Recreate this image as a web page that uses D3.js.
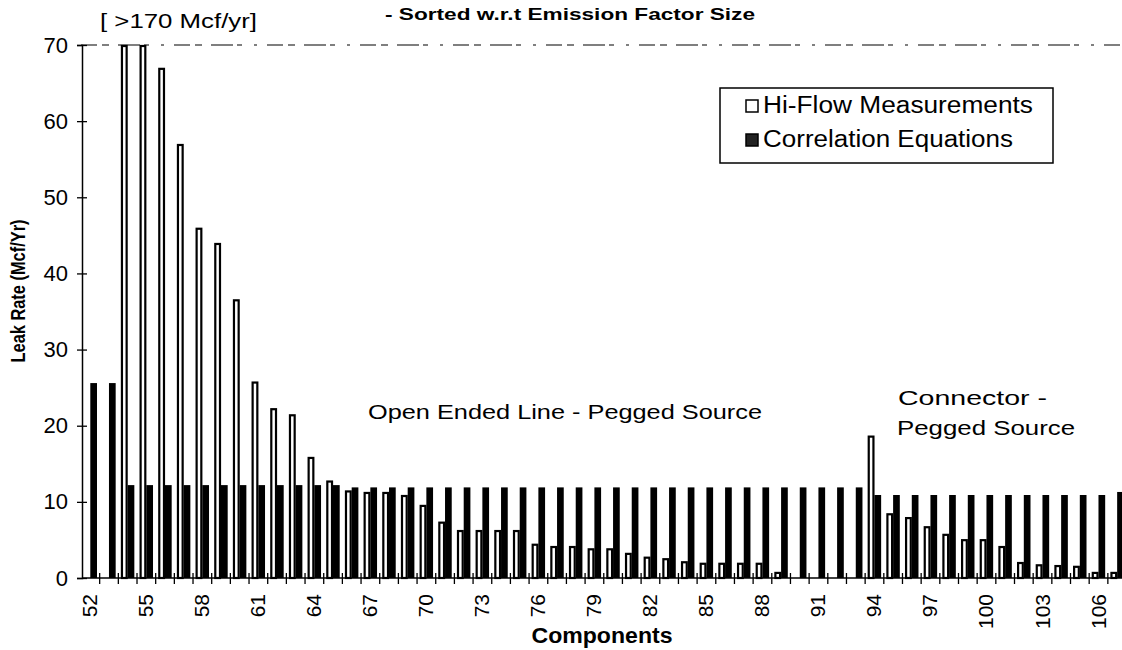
<!DOCTYPE html>
<html>
<head>
<meta charset="utf-8">
<script src="https://cdn.jsdelivr.net/npm/d3@7"></script>
<style>
  body { margin: 0; background: #fff; }
  svg { display: block; font-family: "Liberation Sans", Arial, sans-serif; }
</style>
</head>
<body>
<svg width="1122" height="650"></svg>
<script>
// components 52..107, sorted by emission factor size
var components = d3.range(52, 108);

// Hi-Flow measured leak rate (Mcf/yr); 54 and 55 are >170 and run off the 70 axis
var hiFlow = [
  0, 0, 170, 170, 67, 57, 46, 44, 36.6, 25.8, 22.3, 21.5, 15.9, 12.8,
  11.5, 11.3, 11.3, 10.9, 9.6, 7.4, 6.3, 6.3, 6.3, 6.3, 4.5, 4.2, 4.2, 3.9,
  3.9, 3.3, 2.8, 2.6, 2.2, 2.0, 2.0, 2.0, 2.0, 0.8, 0, 0, 0, 0,
  18.7, 8.5, 8.0, 6.8, 5.8, 5.1, 5.1, 4.2, 2.1, 1.8, 1.7, 1.6, 0.8, 0.8
];

// correlation equation estimates (Mcf/yr)
var correlation = [
  25.6, 25.6,
  12.2, 12.2, 12.2, 12.2, 12.2, 12.2, 12.2, 12.2, 12.2, 12.2, 12.2, 12.2,
  11.9, 11.9, 11.9, 11.9, 11.9, 11.9, 11.9, 11.9, 11.9, 11.9, 11.9, 11.9, 11.9, 11.9,
  11.9, 11.9, 11.9, 11.9, 11.9, 11.9, 11.9, 11.9, 11.9, 11.9, 11.9, 11.9, 11.9, 11.9,
  10.9, 10.9, 10.9, 10.9, 10.9, 10.9, 10.9, 10.9, 10.9, 10.9, 10.9, 10.9, 10.9, 11.3
];

var seriesNames = ["Hi-Flow Measurements", "Correlation Equations"];
var yTicks = [0, 10, 20, 30, 40, 50, 60, 70];
var xLabels = components.filter(function(c) { return (c - 52) % 3 === 0; });

(function() {
  var svg = d3.select("svg"),
    width = 1122,
    plotLeft = 81,
    plotBottom = 578,
    plotTop = 45,
    step = 18.67;

  var x = d3.scaleBand()
    .domain(components)
    .range([plotLeft, plotLeft + components.length * step])
    .padding(0);

  var x1 = d3.scaleBand()
    .domain(["hi", "corr"])
    .range([2.6, 16.0])
    .padding(0);

  var y = d3.scaleLinear()
    .domain([0, 70])
    .range([plotBottom, plotTop])
    .clamp(true);

  var rows = components.map(function(c, i) {
    return { c: c, hi: hiFlow[i], corr: correlation[i] };
  });

  // dashed top border at 70 (broken in the scan)
  svg.append("line")
    .attr("x1", plotLeft).attr("x2", width)
    .attr("y1", y(70)).attr("y2", y(70))
    .attr("stroke", "#555")
    .attr("stroke-width", 1.3)
    .attr("stroke-dasharray", "16,5,7,9,22,4,5,12,3,10");

  var groups = svg.append("g")
    .selectAll(".grp")
    .data(rows)
    .enter()
    .append("g")
    .attr("class", "grp")
    .attr("transform", function(d) { return "translate(" + x(d.c) + ",0)"; });

  groups.append("rect")
    .attr("x", x1("corr"))
    .attr("width", x1.bandwidth())
    .attr("y", function(d) { return y(d.corr); })
    .attr("height", function(d) { return plotBottom - y(d.corr); })
    .attr("fill", "#000");

  groups.filter(function(d) { return d.hi > 0; })
    .append("rect")
    .attr("x", x1("hi") + 1)
    .attr("width", x1.bandwidth() - 2)
    .attr("y", function(d) { return y(d.hi) + 1; })
    .attr("height", function(d) { return plotBottom - y(d.hi) - 1; })
    .attr("fill", "#fff")
    .attr("stroke", "#000")
    .attr("stroke-width", 2.2);

  // y axis
  var yAxis = svg.append("g")
    .attr("transform", "translate(" + (plotLeft + 1) + ",0)")
    .call(d3.axisLeft(y).tickValues(yTicks).tickSize(5).tickPadding(9));
  yAxis.select(".domain").attr("stroke-width", 1.5);
  yAxis.selectAll(".tick line").attr("x1", 5).attr("stroke-width", 1.3);
  yAxis.selectAll(".tick text")
    .style("font-size", "22px")
    .style("font-family", "'Liberation Sans', Arial, sans-serif")
    .attr("fill", "#000");

  // x axis line and boundary ticks
  svg.append("line")
    .attr("x1", plotLeft + 1).attr("x2", width)
    .attr("y1", plotBottom).attr("y2", plotBottom)
    .attr("stroke", "#000").attr("stroke-width", 1.5);

  svg.append("g").selectAll("line")
    .data(components.slice(1))
    .enter()
    .append("line")
    .attr("x1", function(c) { return x(c); })
    .attr("x2", function(c) { return x(c); })
    .attr("y1", plotBottom - 5).attr("y2", plotBottom + 6)
    .attr("stroke", "#000").attr("stroke-width", 1.3);

  var xAxis = svg.append("g")
    .attr("transform", "translate(0," + plotBottom + ")")
    .call(d3.axisBottom(x).tickValues(xLabels).tickSize(0));
  xAxis.select(".domain").remove();
  xAxis.selectAll(".tick text")
    .attr("x", 0).attr("y", 0).attr("dy", 0)
    .attr("transform", "translate(7,16) rotate(-90)")
    .style("text-anchor", "end")
    .style("font-size", "21px")
    .style("font-family", "'Liberation Sans', Arial, sans-serif")
    .attr("fill", "#000");

  // axis titles
  svg.append("text")
    .attr("transform", "translate(25,291) rotate(-90)")
    .attr("text-anchor", "middle")
    .attr("textLength", 143)
    .attr("lengthAdjust", "spacingAndGlyphs")
    .style("font-size", "20px")
    .style("font-weight", "bold")
    .text("Leak Rate (Mcf/Yr)");

  svg.append("text")
    .attr("x", 602).attr("y", 643)
    .attr("text-anchor", "middle")
    .attr("textLength", 141)
    .attr("lengthAdjust", "spacingAndGlyphs")
    .style("font-size", "22px")
    .style("font-weight", "bold")
    .text("Components");

  // titles and notes
  svg.append("text")
    .attr("x", 385).attr("y", 20)
    .attr("textLength", 370)
    .attr("lengthAdjust", "spacingAndGlyphs")
    .style("font-size", "17px")
    .style("font-weight", "bold")
    .text("- Sorted w.r.t Emission Factor Size");

  svg.append("text")
    .attr("x", 100).attr("y", 28)
    .attr("textLength", 157)
    .attr("lengthAdjust", "spacingAndGlyphs")
    .style("font-size", "21px")
    .text("[ >170 Mcf/yr]");

  svg.append("text")
    .attr("x", 368).attr("y", 419)
    .attr("textLength", 394)
    .attr("lengthAdjust", "spacingAndGlyphs")
    .style("font-size", "20px")
    .text("Open Ended Line - Pegged Source");

  svg.append("text")
    .attr("x", 898).attr("y", 405)
    .attr("textLength", 149)
    .attr("lengthAdjust", "spacingAndGlyphs")
    .style("font-size", "21px")
    .text("Connector -");

  svg.append("text")
    .attr("x", 897).attr("y", 435)
    .attr("textLength", 178)
    .attr("lengthAdjust", "spacingAndGlyphs")
    .style("font-size", "21px")
    .text("Pegged Source");

  // legend
  var legend = svg.append("g");
  legend.append("rect")
    .attr("x", 720).attr("y", 88)
    .attr("width", 333).attr("height", 75)
    .attr("fill", "#fff").attr("stroke", "#000").attr("stroke-width", 1.5);

  var legendRows = legend.selectAll(".lg")
    .data(seriesNames)
    .enter()
    .append("g")
    .attr("class", "lg")
    .attr("transform", function(d, i) { return "translate(0," + (113 + i * 34) + ")"; });

  legendRows.append("rect")
    .attr("x", 746).attr("y", -13)
    .attr("width", 12).attr("height", 12)
    .attr("fill", function(d, i) { return i === 0 ? "#fff" : "#222"; })
    .attr("stroke", "#000").attr("stroke-width", 1.5);

  legendRows.append("text")
    .attr("x", 763).attr("y", 0)
    .attr("textLength", function(d, i) { return i === 0 ? 270 : 250; })
    .attr("lengthAdjust", "spacingAndGlyphs")
    .style("font-size", "23px")
    .text(function(d) { return d; });
})();
</script>
</body>
</html>
